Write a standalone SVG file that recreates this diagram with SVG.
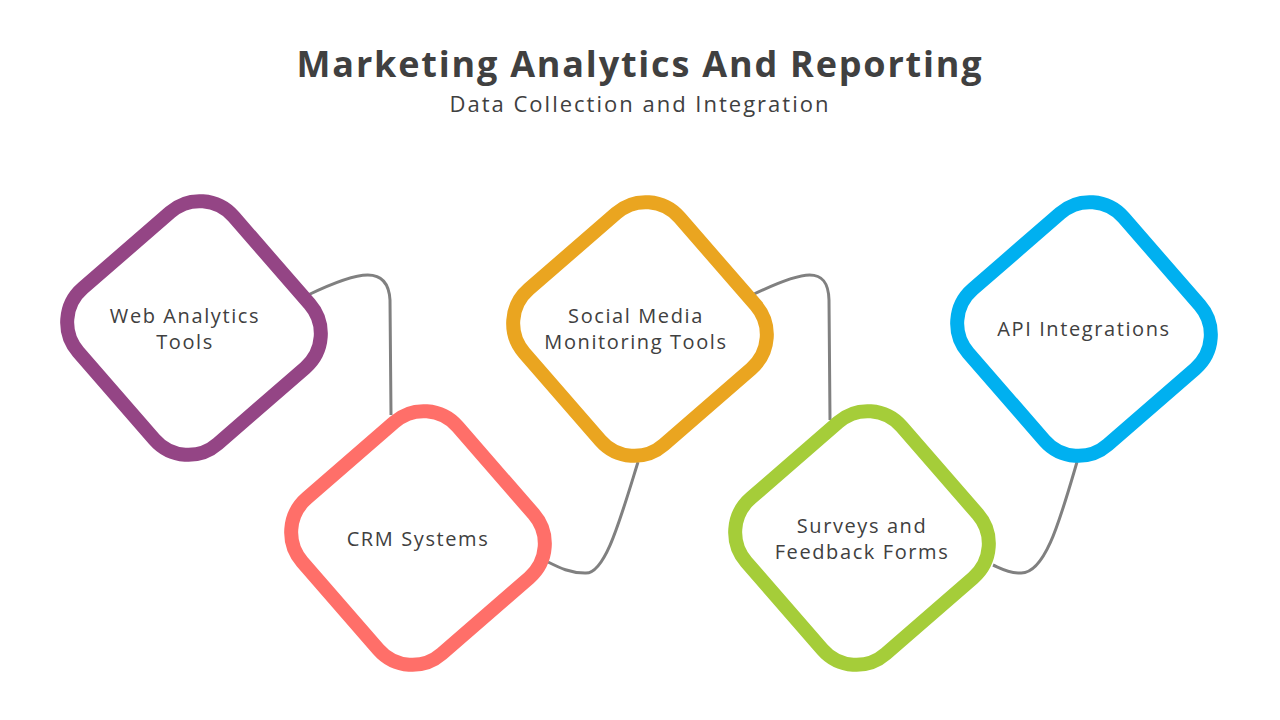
<svg xmlns="http://www.w3.org/2000/svg" width="1280" height="720" viewBox="0 0 1280 720">
<style>
.n{fill:#fff;stroke-width:14}
.t{font-family:"Open Sans","Liberation Sans",sans-serif;font-size:20px;letter-spacing:1.6px;fill:#404040;text-anchor:middle}
.c{fill:none;stroke:#808080;stroke-width:3}
</style>
<rect width="1280" height="720" fill="#fff"/>
<text x="640" y="77" text-anchor="middle" font-family="Open Sans, Liberation Sans, sans-serif" font-weight="bold" font-size="36" letter-spacing="1.8" fill="#404040">Marketing Analytics And Reporting</text>
<text x="640" y="112" text-anchor="middle" font-family="Open Sans, Liberation Sans, sans-serif" font-size="22" letter-spacing="2" fill="#404040">Data Collection and Integration</text>
<g id="connectors">
<path class="c" d="M308,295 C360,270 388,265 390,300 L391,415"/>
<path class="c" d="M638,462 C620,520 605,575 585,573 C570,573 560,568 548,562"/>
<path class="c" d="M752,295 C804,270 828,265 829,300 L830,420"/>
<path class="c" d="M1077,462 C1060,520 1045,575 1020,573 C1008,573 1000,568 993,565"/>
</g>
<g id="n1"><rect class="n" x="-103" y="-103" width="206" height="206" rx="45" stroke="#944585" transform="translate(194,328) rotate(-41)"/><text class="t" x="185" y="323">Web Analytics</text><text class="t" x="185" y="349">Tools</text></g>
<g id="n2"><rect class="n" x="-103" y="-103" width="206" height="206" rx="45" stroke="#ff6f69" transform="translate(418,538) rotate(-41)"/><text class="t" x="418" y="546">CRM Systems</text></g>
<g id="n3"><rect class="n" x="-103" y="-103" width="206" height="206" rx="45" stroke="#eaa520" transform="translate(640,329) rotate(-41)"/><text class="t" x="636" y="323">Social Media</text><text class="t" x="636" y="349">Monitoring Tools</text></g>
<g id="n4"><rect class="n" x="-103" y="-103" width="206" height="206" rx="45" stroke="#a5cd39" transform="translate(862,538) rotate(-41)"/><text class="t" x="862" y="533">Surveys and</text><text class="t" x="862" y="559">Feedback Forms</text></g>
<g id="n5"><rect class="n" x="-103" y="-103" width="206" height="206" rx="45" stroke="#00b0f0" transform="translate(1084,329) rotate(-41)"/><text class="t" x="1084" y="336">API Integrations</text></g>
</svg>
